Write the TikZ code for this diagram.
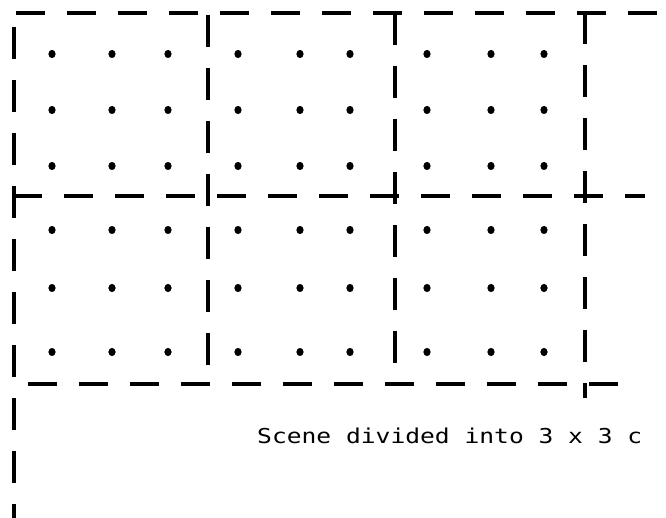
\documentclass[tikz,border=0pt]{standalone}
\usepackage{fontspec}
\newfontfamily\scenefont{DejaVu Sans Mono}

\begin{document}
\begin{tikzpicture}[x=1pt,y=-1pt,
    hgrid/.style={line width=3.2pt,dash pattern=on 29pt off 22pt},
    vgrid/.style={line width=3.2pt,dash pattern=on 32pt off 21pt},
    sample/.style={fill=black}]
  \useasboundingbox (0,0) rectangle (666,518);
  \draw[hgrid](16,13)--(666,13);
  \draw[hgrid](13,196)--(645,196);
  \draw[hgrid](28,384)--(631,384);
  \draw[vgrid](14,27)--(14,518);
  \draw[vgrid](208,15)--(208,384);
  \draw[vgrid](395,13)--(395,364);
  \draw[vgrid](585,12)--(585,398);
  \foreach \x in {52,112,168,238,300,350,427,491,544}
    \foreach \y in {54,110,166,230,288,352}
      \fill[sample](\x,\y) ellipse (3.6 and 4.1);
  \node[font=\scenefont\fontsize{20.5}{24}\selectfont,anchor=base west,
        inner sep=0pt,xscale=1.2] (caption) at (257,443)
       {Scene divided into 3 x 3 c};
\end{tikzpicture}
\end{document}
